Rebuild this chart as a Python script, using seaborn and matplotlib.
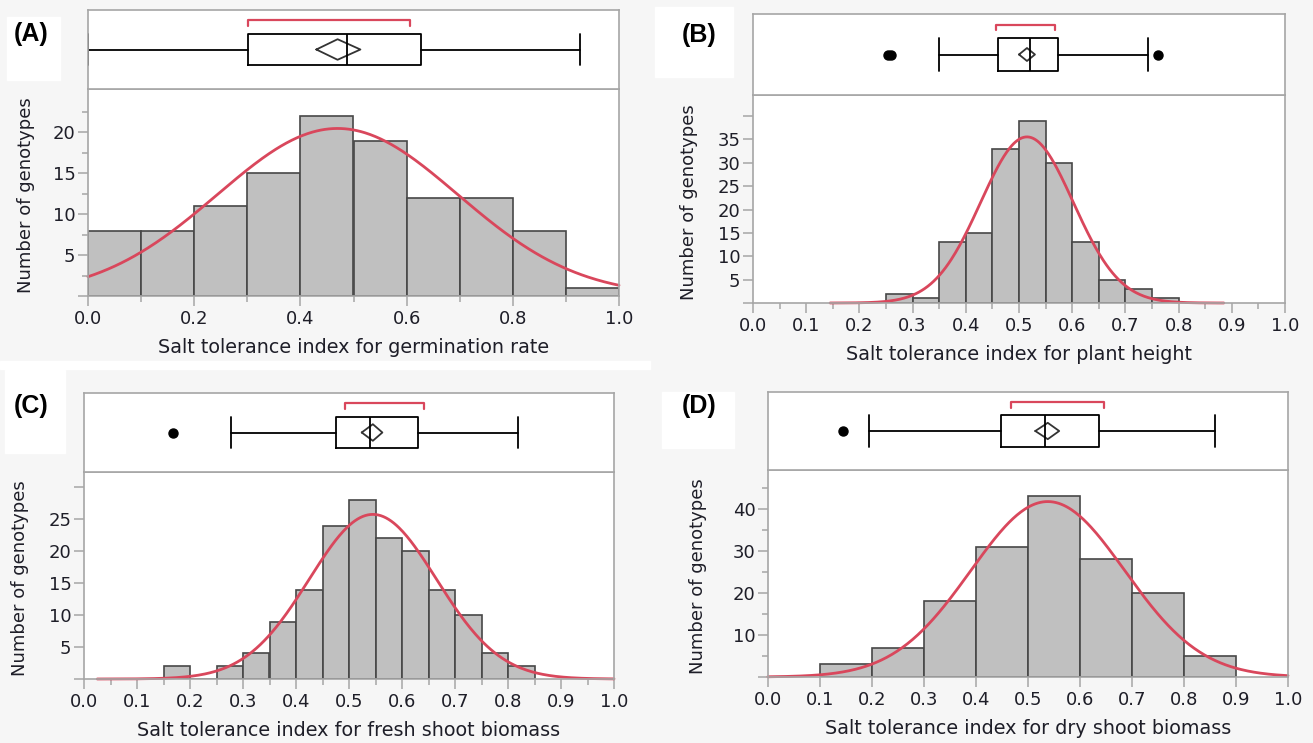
import numpy as np
import pandas as pd
import matplotlib
matplotlib.use('Agg')
import matplotlib.pyplot as plt
from matplotlib.patches import Rectangle
import seaborn as sns

# histogram bins (left edges), bin widths and counts
germ_bins = [0.0, 0.1, 0.2, 0.3, 0.4, 0.5, 0.6, 0.7, 0.8, 0.9]
germ_counts = [8, 8, 11, 15, 22, 19, 12, 12, 8, 1]

height_bins = [0.25, 0.30, 0.35, 0.40, 0.45, 0.50, 0.55, 0.60, 0.65, 0.70, 0.75]
height_counts = [2, 1, 13, 15, 33, 39, 30, 13, 5, 3, 1]

fresh_bins = [0.15, 0.20, 0.25, 0.30, 0.35, 0.40, 0.45, 0.50, 0.55, 0.60, 0.65, 0.70, 0.75, 0.80]
fresh_counts = [2, 0, 2, 4, 9, 14, 24, 28, 22, 20, 14, 10, 4, 2]

dry_bins = [0.1, 0.2, 0.3, 0.4, 0.5, 0.6, 0.7, 0.8]
dry_counts = [3, 7, 18, 31, 43, 28, 20, 5]

bin_widths = [0.1, 0.05, 0.05, 0.1]

# fitted normal: mean, sd, and x-range where the curve is drawn
normal_mean = [0.470, 0.515, 0.545, 0.538]
normal_sd = [0.226, 0.087, 0.120, 0.148]
curve_range = [(0.0, 1.0), (0.145, 0.885), (0.025, 1.0), (0.0, 1.0)]

# outlier box plot summaries
box_stats = [
    dict(whislo=0.0, q1=0.302, med=0.487, q3=0.627, whishi=0.927, fliers=[]),
    dict(whislo=0.349, q1=0.461, med=0.520, q3=0.574, whishi=0.743, fliers=[0.254, 0.259, 0.761]),
    dict(whislo=0.278, q1=0.476, med=0.540, q3=0.631, whishi=0.818, fliers=[0.167]),
    dict(whislo=0.195, q1=0.448, med=0.533, q3=0.637, whishi=0.860, fliers=[0.144]),
]
mean_ci = [(0.430, 0.513), (0.500, 0.530), (0.524, 0.563), (0.514, 0.560)]
shortest_half = [(0.302, 0.607), (0.457, 0.567), (0.493, 0.642), (0.468, 0.647)]

panel_letters = ['(A)', '(B)', '(C)', '(D)']
x_labels = ['Salt tolerance index for germination rate',
            'Salt tolerance index for plant height',
            'Salt tolerance index for fresh shoot biomass',
            'Salt tolerance index for dry shoot biomass']
y_label = 'Number of genotypes'

# y ticks: all major ticks, labelled ones, minor ticks, upper limit
y_major = [[0, 5, 10, 15, 20], [0, 5, 10, 15, 20, 25, 30, 35, 40],
           [0, 5, 10, 15, 20, 25, 30], [0, 10, 20, 30, 40]]
y_labelled = [[5, 10, 15, 20], [5, 10, 15, 20, 25, 30, 35],
              [5, 10, 15, 20, 25], [10, 20, 30, 40]]
y_minor = [[2.5, 7.5, 12.5, 17.5, 22.5], [], [], [5, 15, 25, 35, 45]]
y_top = [25.3, 44.5, 32.4, 49.3]
x_major = [[0.0, 0.2, 0.4, 0.6, 0.8, 1.0]] + [[round(0.1 * i, 1) for i in range(11)]] * 3
x_minor = [[0.1, 0.3, 0.5, 0.7, 0.9], [0.05, 0.15, 0.25, 0.35, 0.45, 0.55, 0.65, 0.75, 0.85, 0.95],
           [0.05, 0.15, 0.25, 0.35, 0.45, 0.55, 0.65, 0.75, 0.85, 0.95], []]

# layout in pixels: (x0, x1, box top, split, hist bottom)
W, H = 1313, 743
frames = [(88, 619, 10, 89, 296), (753, 1285, 14, 95, 303),
          (84, 614, 393, 472, 679), (768, 1288, 392, 470, 677)]
label_xy = [(31, 34), (699, 35), (31, 406), (699, 406)]
label_patches = [(7, 17, 53, 63), (655, 7, 78, 70), (5, 370, 60, 83), (662, 392, 72, 56)]
ylabel_x = [-0.100, -0.103, -0.104, -0.117]
diamond_half = [0.13, 0.08, 0.105, 0.105]

sns.set_style('white')
plt.rcParams['font.family'] = ['DejaVu Sans']

RED = '#d9475c'
FRAME = '#a6a6a6'
TXT = '#1e1e28'

fig = plt.figure(figsize=(W / 100, H / 100), dpi=100, facecolor='#f6f6f6')
for (px, py, pw, ph) in label_patches:
    fig.patches.append(Rectangle((px / W, 1 - (py + ph) / H), pw / W, ph / H,
                                 transform=fig.transFigure, color='white', zorder=0))
fig.patches.append(Rectangle((0, 1 - 369 / H), 650 / W, 8 / H,
                             transform=fig.transFigure, color='white', zorder=0))


def px_rect(x0, x1, top, bottom):
    return [x0 / W, 1 - bottom / H, (x1 - x0) / W, (bottom - top) / H]


all_bins = [germ_bins, height_bins, fresh_bins, dry_bins]
all_counts = [germ_counts, height_counts, fresh_counts, dry_counts]

for i in range(4):
    x0, x1, top, split, bottom = frames[i]
    bw = bin_widths[i]
    starts = np.array(all_bins[i])
    counts = np.array(all_counts[i])
    n = counts.sum()

    # ---- histogram with normal fit
    ax = fig.add_axes(px_rect(x0, x1, split, bottom))
    ax.set_facecolor('white')
    df = pd.DataFrame({'x': starts + bw / 2, 'count': counts})
    edges = [float(v) for v in np.append(starts, starts[-1] + bw)]
    sns.histplot(data=df, x='x', weights='count', bins=edges, ax=ax,
                 color='#c0c0c0', edgecolor='#474747', linewidth=1.2, alpha=1)
    lo, hi = curve_range[i]
    grid = np.linspace(lo, hi, 400)
    mu, sd = normal_mean[i], normal_sd[i]
    dens = n * bw / (sd * np.sqrt(2 * np.pi)) * np.exp(-0.5 * ((grid - mu) / sd) ** 2)
    sns.lineplot(x=grid, y=dens, ax=ax, color=RED, linewidth=2.0, clip_on=False)

    ax.set_xlim(0, 1)
    ax.set_ylim(0, y_top[i])
    ax.set_xticks(x_major[i])
    ax.set_xticklabels([f'{v:.1f}' for v in x_major[i]])
    ax.set_xticks(x_minor[i], minor=True)
    ax.set_yticks(y_major[i])
    ax.set_yticklabels([str(v) if v in y_labelled[i] else '' for v in y_major[i]])
    ax.set_yticks(y_minor[i], minor=True)
    ax.tick_params(axis='both', which='both', bottom=True, left=True, direction='out')
    ax.tick_params(axis='both', which='major', length=7, width=1.1,
                   color=FRAME, labelcolor=TXT, labelsize=13)
    ax.tick_params(axis='both', which='minor', length=4.5, width=1.1, color=FRAME)
    ax.tick_params(axis='x', pad=3)
    ax.tick_params(axis='y', pad=2)
    for s in ax.spines.values():
        s.set_color(FRAME)
        s.set_linewidth(1.2)
    ax.set_xlabel(x_labels[i], fontsize=13.8, color=TXT, labelpad=7)
    ax.set_ylabel(y_label, fontsize=13, color=TXT)
    ax.yaxis.set_label_coords(ylabel_x[i], 0.485)

    # ---- outlier box plot with mean diamond and shortest half bracket
    bx = fig.add_axes(px_rect(x0, x1, top, split))
    bx.set_facecolor('white')
    line = dict(color='black', linewidth=1.3)
    bx.bxp([box_stats[i]], positions=[0.5], widths=0.4, orientation='horizontal',
           showfliers=True, manage_ticks=False, capwidths=0.4,
           boxprops=line, whiskerprops=line, capprops=line, medianprops=line,
           flierprops=dict(marker='o', markerfacecolor='black', markeredgecolor='black',
                           markersize=6.5))
    clo, chi = mean_ci[i]
    h = diamond_half[i]
    bx.plot([clo, mu, chi, mu, clo], [0.5, 0.5 + h, 0.5, 0.5 - h, 0.5],
            color='#333333', linewidth=1.3)
    slo, shi = shortest_half[i]
    bx.plot([slo, slo, shi, shi], [0.80, 0.87, 0.87, 0.80], color=RED, linewidth=1.6)
    bx.set_xlim(0, 1)
    bx.set_ylim(0, 1)
    bx.set_xticks([])
    bx.set_yticks([])
    for s in bx.spines.values():
        s.set_color(FRAME)
        s.set_linewidth(1.2)

    lx, ly = label_xy[i]
    fig.text(lx / W, 1 - ly / H, panel_letters[i], ha='center', va='center',
             fontsize=18, fontweight='bold', family='Liberation Sans', color='black')

fig.savefig('out.png', dpi=100, facecolor=fig.get_facecolor())
